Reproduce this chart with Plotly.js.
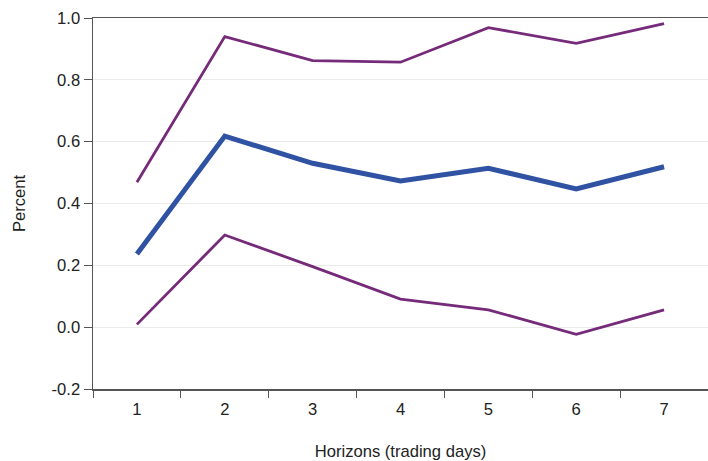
<!DOCTYPE html>
<html>
<head>
<meta charset="utf-8">
<script src="https://cdn.plot.ly/plotly-3.0.1.min.js"></script>
<style>html,body{margin:0;padding:0;background:#fff;}#chart{width:708px;height:461px;}</style>
</head>
<body>
<div id="chart"></div>
<script>
const horizons = ['1', '2', '3', '4', '5', '6', '7'];
const upperBand = [0.469, 0.940, 0.862, 0.857, 0.969, 0.918, 0.982];
const estimate = [0.237, 0.618, 0.530, 0.473, 0.514, 0.447, 0.519];
const lowerBand = [0.009, 0.298, 0.196, 0.091, 0.056, -0.023, 0.056];
const yTicks = [-0.2, 0.0, 0.2, 0.4, 0.6, 0.8, 1.0];
const yTickLabels = ['-0.2', '0.0', '0.2', '0.4', '0.6', '0.8', '1.0'];

const purple = '#762A7A';
const blue = '#2F52A3';

const traces = [
  {x: horizons, y: upperBand, type: 'scatter', mode: 'lines', line: {color: purple, width: 2.8}, hoverinfo: 'skip'},
  {x: horizons, y: lowerBand, type: 'scatter', mode: 'lines', line: {color: purple, width: 2.8}, hoverinfo: 'skip'},
  {x: horizons, y: estimate, type: 'scatter', mode: 'lines', line: {color: blue, width: 5}, hoverinfo: 'skip'}
];

const fs = 16.6;
const layout = {
  width: 708, height: 461,
  margin: {l: 93, r: 0, t: 18, b: 72, pad: 0},
  paper_bgcolor: '#fff', plot_bgcolor: '#fff',
  showlegend: false,
  font: {family: 'Liberation Sans, Arial, sans-serif', size: fs, color: '#222'},
  xaxis: {
    type: 'category',
    range: [-0.5, 6.5],
    tickson: 'boundaries',
    ticks: 'outside', ticklen: 7, tickcolor: '#555', tickwidth: 1,
    ticklabelstandoff: 5,
    showline: true, linecolor: '#555', linewidth: 1.5, mirror: true,
    showgrid: false, zeroline: false,
    tickfont: {size: fs, color: '#222'},
    title: {text: 'Horizons (trading days)', font: {size: fs, color: '#222'}, standoff: 30},
    automargin: false
  },
  yaxis: {
    range: [-0.2, 1.0],
    tickvals: yTicks,
    ticktext: yTickLabels,
    ticks: 'outside', ticklen: 8, tickcolor: '#555', tickwidth: 1,
    showline: true, linecolor: '#555', linewidth: 1.5,
    showgrid: true, gridcolor: '#EBEBEB', gridwidth: 1,
    zeroline: false,
    tickfont: {size: fs, color: '#222'},
    title: {text: 'Percent', font: {size: fs, color: '#222'}, standoff: 22},
    automargin: false
  }
};

Plotly.newPlot('chart', traces, layout, {displayModeBar: false, staticPlot: true});
</script>
</body>
</html>
